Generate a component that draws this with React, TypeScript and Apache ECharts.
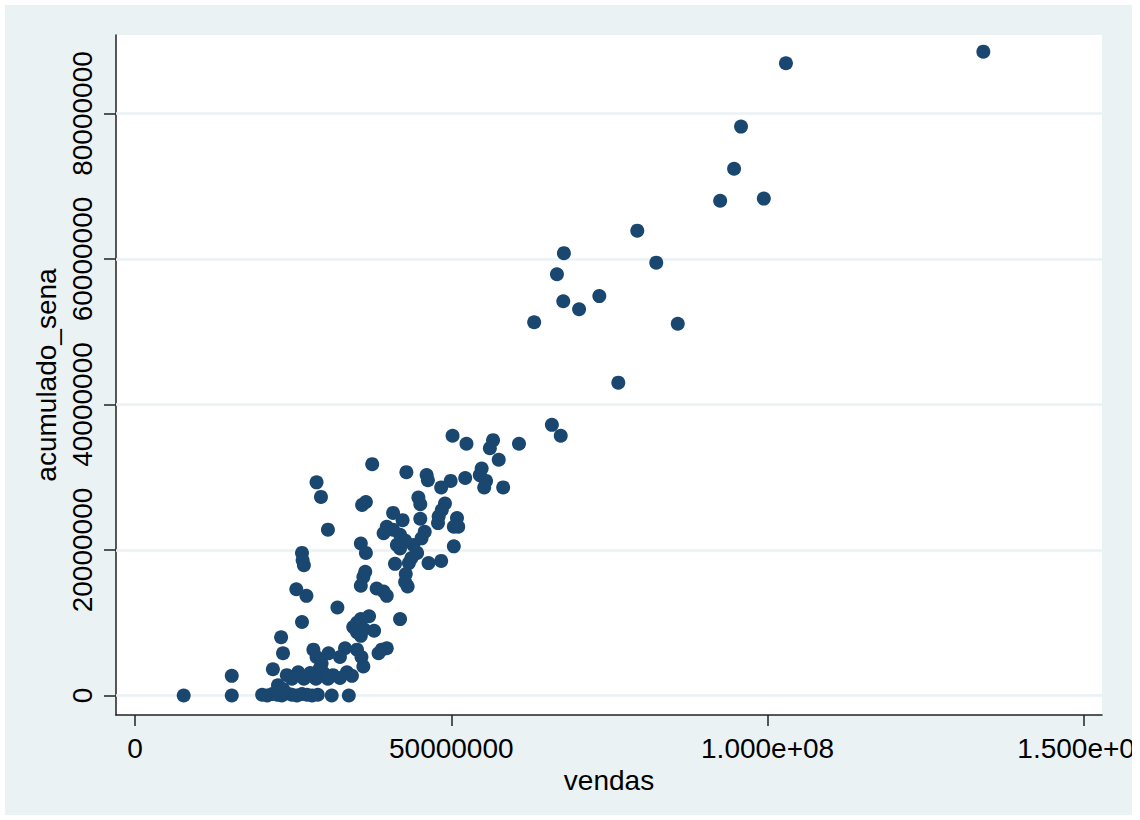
import React, { useEffect, useRef } from "react";
import * as echarts from "echarts";

// values in millions
const vendas: number[] = [
  134.1, 102.9, 95.8, 94.7, 92.5, 99.4, 79.4, 67.8, 66.7, 82.4, 67.7, 73.4, 70.2, 63.1, 85.8, 76.4,
  65.9, 67.3, 50.2, 52.4, 56.6, 56.1, 60.7, 57.5, 37.5, 42.9, 46.1, 46.3, 49.9, 48.4, 52.2, 54.8,
  54.5, 55.5, 55.2, 58.2, 44.8, 45.1, 35.9, 36.5, 49.0, 48.5, 48.0, 47.9, 50.9, 51.1, 50.4, 45.1,
  40.8, 42.3, 39.8, 40.8, 39.3, 41.9, 45.8, 45.3, 44.0, 41.4, 42.7, 41.9, 44.6, 43.7, 43.3, 50.4,
  35.7, 36.5, 30.5, 41.1, 46.4, 48.4, 36.4, 36.1, 35.7, 42.8, 42.7, 43.1, 38.2, 39.3, 39.8, 28.7,
  29.4, 26.4, 26.5, 26.7, 25.5, 27.1, 32.0, 26.4, 23.1, 23.4, 21.8, 15.3, 15.3, 7.7, 41.9,
  34.5, 35.1, 35.7, 37.0, 36.2, 37.8, 35.1, 35.7,
  39.0, 39.8, 38.5, 28.2, 28.7, 30.6, 33.2, 32.4, 35.1, 35.8, 36.1, 29.5, 29.2, 29.8,
  20.1, 20.9, 21.7, 22.5, 23.2, 24.0, 24.8, 25.6, 26.4, 27.2, 28.0, 28.9, 31.1, 33.8,
  24.0, 25.8, 27.7, 29.6, 31.3, 33.5, 24.8, 26.7, 28.6, 30.5, 32.4, 34.3, 22.6, 23.4,
];
const acumuladoSena: number[] = [
  88.5, 86.9, 78.2, 72.4, 68.0, 68.3, 63.9, 60.8, 57.9, 59.5, 54.2, 54.9, 53.1, 51.3, 51.1, 43.0,
  37.2, 35.7, 35.7, 34.6, 35.1, 34.0, 34.6, 32.4, 31.8, 30.7, 30.3, 29.6, 29.5, 28.6, 29.9, 31.2,
  30.3, 29.5, 28.6, 28.6, 27.2, 26.3, 26.2, 26.6, 26.4, 25.5, 24.6, 23.7, 24.4, 23.2, 23.2, 24.3,
  25.1, 24.1, 23.2, 22.8, 22.3, 22.1, 22.5, 21.6, 20.7, 20.7, 21.3, 20.2, 19.6, 18.9, 18.2, 20.5,
  20.9, 19.6, 22.8, 18.1, 18.2, 18.5, 17.0, 16.3, 15.1, 16.7, 15.6, 15.0, 14.7, 14.3, 13.7, 29.3,
  27.3, 19.6, 18.6, 17.9, 14.6, 13.7, 12.1, 10.1, 8.0, 5.8, 3.6, 2.7, 0.0, 0.0, 10.5,
  9.4, 10.0, 10.5, 10.9, 9.1, 8.9, 8.7, 8.2,
  6.3, 6.5, 5.8, 6.3, 5.3, 5.8, 6.5, 5.3, 6.3, 5.3, 4.0, 4.4, 3.7, 3.1,
  0.1, 0.0, 0.2, 0.1, 0.0, 0.3, 0.1, 0.0, 0.2, 0.1, 0.0, 0.1, 0.0, 0.0,
  2.8, 3.2, 3.1, 3.2, 2.8, 3.2, 2.3, 2.3, 2.3, 2.3, 2.4, 2.7, 1.4, 0.9,
];

const xTicks: number[] = [0, 50, 100, 150];
const xTickLabels: string[] = ["0", "50000000", "1.000e+08", "1.500e+08"];
const yTicks: number[] = [0, 20, 40, 60, 80];
const yTickLabels: string[] = ["0", "20000000", "40000000", "60000000", "80000000"];

const FONT = "'Liberation Sans', Arial, sans-serif";
const BG = "#eaf2f3";
const NAVY = "#1a476f";

export default function App() {
  const ref = useRef<HTMLDivElement>(null);
  useEffect(() => {
    if (!ref.current) return;
    const chart = echarts.init(ref.current, undefined, { renderer: "svg" });
    const data = vendas.map((v, i) => [v, acumuladoSena[i]]);
    const xLab = (v: number) => {
      const i = xTicks.indexOf(v);
      return i >= 0 ? xTickLabels[i] : "";
    };
    const yLab = (v: number) => {
      const i = yTicks.indexOf(v);
      return i >= 0 ? yTickLabels[i] : "";
    };
    chart.setOption({
      animation: false,
      backgroundColor: BG,
      textStyle: { fontFamily: FONT },
      grid: {
        left: 111,
        top: 30,
        right: 30,
        bottom: 100,
        containLabel: false,
        outerBoundsMode: "none",
        show: true,
        backgroundColor: "#ffffff",
        borderWidth: 0,
      },
      xAxis: {
        type: "value",
        min: -3.0,
        max: 152.86,
        name: "vendas",
        nameLocation: "middle",
        nameGap: 44,
        nameTextStyle: { fontSize: 28, color: "#000", fontFamily: FONT },
        axisLine: { show: true, onZero: false, lineStyle: { color: "#222", width: 1.5 } },
        axisTick: { show: true, customValues: xTicks, length: 11, lineStyle: { color: "#222", width: 1.5 } },
        axisLabel: {
          customValues: xTicks,
          formatter: xLab,
          fontSize: 28,
          color: "#000",
          margin: 19,
          fontFamily: FONT,
          hideOverlap: false,
        },
        splitLine: { show: false },
      },
      yAxis: {
        type: "value",
        min: -2.68,
        max: 90.79,
        name: "acumulado_sena",
        nameLocation: "middle",
        nameGap: 52,
        nameTextStyle: { fontSize: 28, color: "#000", fontFamily: FONT },
        axisLine: { show: true, onZero: false, lineStyle: { color: "#222", width: 1.5 } },
        axisTick: { show: true, customValues: yTicks, length: 12, lineStyle: { color: "#222", width: 1.5 } },
        axisLabel: {
          customValues: yTicks,
          formatter: yLab,
          rotate: 90,
          fontSize: 28,
          color: "#000",
          margin: 20,
          fontFamily: FONT,
        },
        splitLine: { show: false },
      },
      series: [
        {
          type: "scatter",
          z: 1,
          data: [],
          markLine: {
            silent: true,
            symbol: "none",
            z: 1,
            label: { show: false },
            lineStyle: { color: BG, width: 2.5, type: "solid" },
            emphasis: { disabled: true },
            data: yTicks.map((v) => ({ yAxis: v })),
          },
        },
        {
          type: "scatter",
          z: 10,
          symbol: "circle",
          symbolSize: 14,
          itemStyle: { color: NAVY, opacity: 1 },
          data,
        },
      ],
    });
    return () => chart.dispose();
  }, []);
  return (
    <div style={{ position: "fixed", left: 0, top: 0, width: 1140, height: 820, background: "#ffffff" }}>
      <div
        ref={ref}
        style={{ position: "absolute", left: 5, top: 5, width: 1127, height: 810, overflow: "hidden" }}
      />
    </div>
  );
}
